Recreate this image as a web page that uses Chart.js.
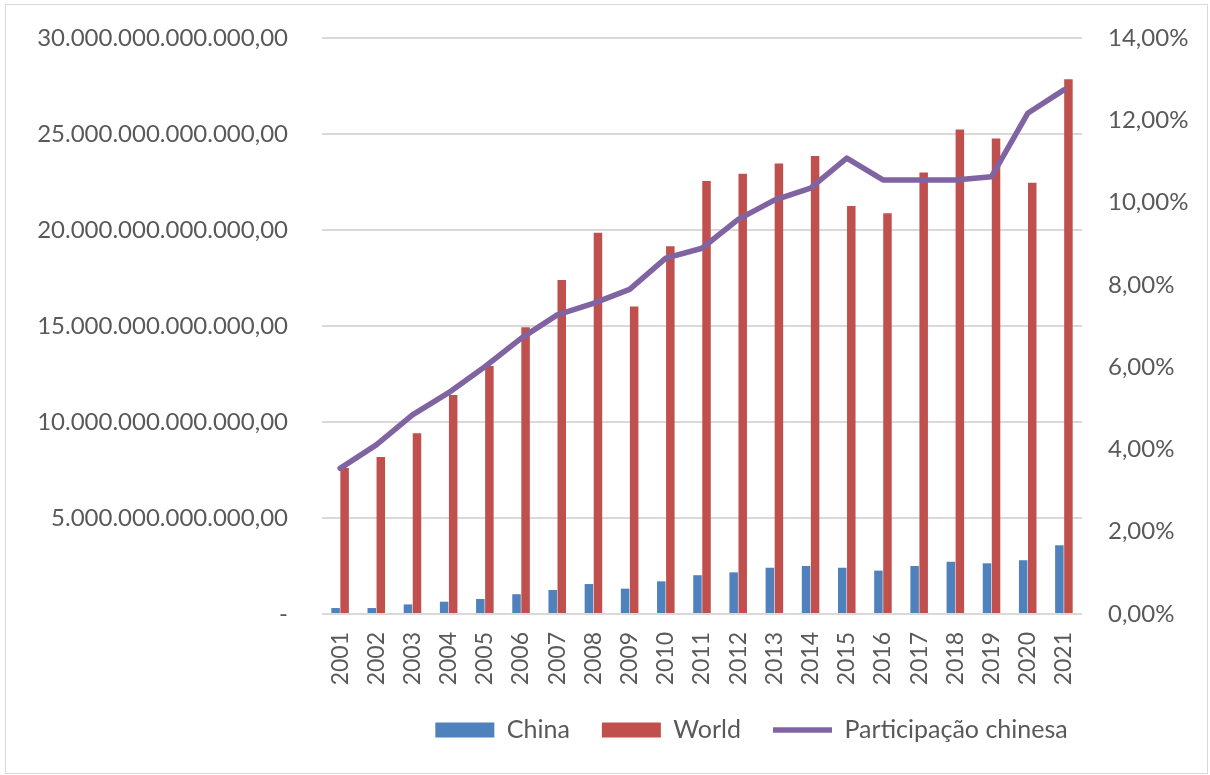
<!DOCTYPE html>
<html>
<head>
<meta charset="utf-8">
<script src="https://cdn.jsdelivr.net/npm/chart.js@4/dist/chart.umd.min.js"></script>
<style>
  body { margin: 0; background: #fff; }
  #wrap { position: relative; width: 1210px; height: 775px; }
  #frame {
    position: absolute; left: 5px; top: 4px; width: 1201px; height: 768px;
    border: 1px solid #d9d9d9; pointer-events: none;
  }
</style>
</head>
<body>
<div id="wrap">
  <canvas id="exportsChart" width="1210" height="775"></canvas>
  <div id="frame"></div>
</div>
<script>
// ===== Exports: China vs World, with Chinese share =====

const years = ['2001', '2002', '2003', '2004', '2005', '2006', '2007', '2008', '2009', '2010',
  '2011', '2012', '2013', '2014', '2015', '2016', '2017', '2018', '2019', '2020', '2021'];

// values in trillions (10^12)
const chinaValues = [0.31, 0.31, 0.50, 0.64, 0.78, 1.03, 1.25, 1.56, 1.32, 1.70,
  2.02, 2.17, 2.41, 2.50, 2.41, 2.26, 2.50, 2.72, 2.64, 2.80, 3.58];
const worldValues = [7.60, 8.18, 9.41, 11.41, 12.92, 14.93, 17.40, 19.86, 16.02, 19.15,
  22.55, 22.93, 23.47, 23.85, 21.25, 20.87, 23.00, 25.24, 24.77, 22.46, 27.85];

// Chinese share, percent
const shareValues = [3.54, 4.11, 4.84, 5.38, 6.01, 6.70, 7.27, 7.55, 7.89, 8.65,
  8.89, 9.59, 10.06, 10.35, 11.08, 10.55, 10.55, 10.55, 10.63, 12.17, 12.74];

// tick labels, bottom to top
const leftTickLabels = ['-', '5.000.000.000.000,00', '10.000.000.000.000,00', '15.000.000.000.000,00',
  '20.000.000.000.000,00', '25.000.000.000.000,00', '30.000.000.000.000,00'];
const rightTickLabels = ['0,00%', '2,00%', '4,00%', '6,00%', '8,00%', '10,00%', '12,00%', '14,00%'];

const textColor = '#595959';
const gridColor = '#d9d9d9';
const fontFamily = "Lato, 'Open Sans', sans-serif";

// legend is laid out over the full width; move it to sit under the plot like the original
const legendBox = {
  id: 'legendBox',
  afterLayout(chart) {
    chart.legend.left = 293;
    chart.legend.right = 1210;
  }
};

// fixed axis sizes so the plot area lands where it does in the original
function fixVertical(width) {
  return (scale) => {
    scale.width = width;
    scale.paddingTop = 0;
    scale.paddingBottom = 0;
  };
}

const ctx = document.getElementById('exportsChart').getContext('2d');

new Chart(ctx, {
  type: 'bar',
  data: {
    labels: years,
    datasets: [
      {
        label: 'China',
        data: chinaValues,
        backgroundColor: '#4f81bd',
        yAxisID: 'y',
        order: 1,
        pointStyle: 'rect',
        categoryPercentage: 0.5,
        barPercentage: 0.94
      },
      {
        label: 'World',
        data: worldValues,
        backgroundColor: '#c0504d',
        yAxisID: 'y',
        order: 1,
        pointStyle: 'rect',
        categoryPercentage: 0.5,
        barPercentage: 0.94
      },
      {
        type: 'line',
        label: 'Participação chinesa',
        data: shareValues,
        borderColor: '#8064a2',
        backgroundColor: '#8064a2',
        borderWidth: 5.5,
        borderCapStyle: 'round',
        borderJoinStyle: 'round',
        pointRadius: 0,
        pointStyle: 'line',
        tension: 0,
        fill: false,
        yAxisID: 'y1',
        order: 0
      }
    ]
  },
  plugins: [legendBox],
  options: {
    responsive: false,
    animation: false,
    layout: {
      padding: { left: 0, right: 0, top: 38, bottom: 22.5 }
    },
    plugins: {
      tooltip: { enabled: false },
      legend: {
        display: true,
        position: 'bottom',
        labels: {
          usePointStyle: true,
          pointStyleWidth: 59,
          boxWidth: 59,
          boxHeight: 15,
          padding: 32,
          color: textColor,
          font: { family: fontFamily, size: 25 },
          sort: (a, b) => a.datasetIndex - b.datasetIndex
        }
      }
    },
    scales: {
      x: {
        grid: { display: false, drawTicks: false },
        border: { display: false },
        ticks: {
          color: textColor,
          font: { family: fontFamily, size: 23 },
          minRotation: 90,
          maxRotation: 90,
          autoSkip: false,
          padding: 18
        },
        afterFit: (scale) => { scale.height = 71.5; }
      },
      y: {
        position: 'left',
        min: 0,
        max: 30,
        grid: { color: gridColor, lineWidth: 2, drawTicks: false },
        border: { display: false },
        ticks: {
          stepSize: 5,
          color: textColor,
          font: { family: fontFamily, size: 24 },
          padding: 34,
          callback: function(value, index) {
            return leftTickLabels[index];
          }
        },
        afterFit: fixVertical(322)
      },
      y1: {
        position: 'right',
        min: 0,
        max: 14,
        grid: { display: false, drawTicks: false },
        border: { display: false },
        ticks: {
          stepSize: 2,
          color: textColor,
          font: { family: fontFamily, size: 24 },
          padding: 26,
          callback: function(value, index) {
            return rightTickLabels[index];
          }
        },
        afterFit: fixVertical(128)
      }
    }
  }
});
</script>
</body>
</html>
